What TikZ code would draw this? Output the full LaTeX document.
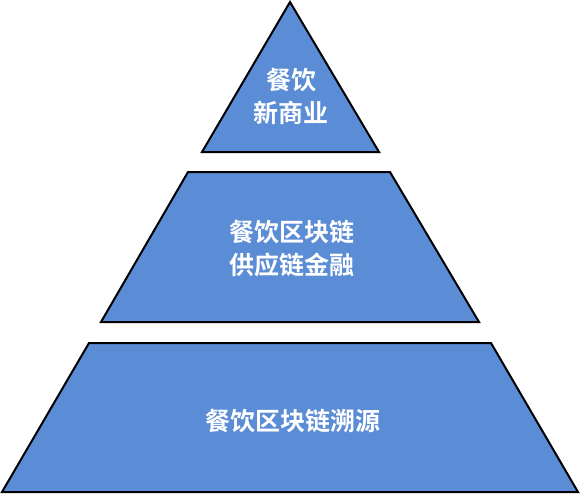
\documentclass[tikz,border=0pt]{standalone}
\usepackage{fontspec}
\newfontfamily\cjk{Noto Sans CJK SC}[BoldFont={* Bold}]
\definecolor{layerblue}{RGB}{91,140,214}
\begin{document}
\begin{tikzpicture}[x=1pt,y=-1pt,
  layer/.style={fill=layerblue,draw=black,line width=2pt,line join=miter},
  lbl/.style={text=white,font=\cjk\bfseries\fontsize{25}{33}\selectfont,align=center,inner sep=0pt}]
\useasboundingbox (0,0) rectangle (583,495);
\draw[layer] (290,2) -- (379,152) -- (202,152) -- cycle;
\draw[layer] (188,172) -- (390,172) -- (479,322) -- (101,322) -- cycle;
\draw[layer] (89,343) -- (491,343) -- (578,492) -- (2,492) -- cycle;
\node[lbl] (top) at (291,96) {餐饮\\新商业};
\node[lbl] (mid) at (292,249) {餐饮区块链\\供应链金融};
\node[lbl] (bot) at (293,421) {餐饮区块链溯源};
\end{tikzpicture}
\end{document}
